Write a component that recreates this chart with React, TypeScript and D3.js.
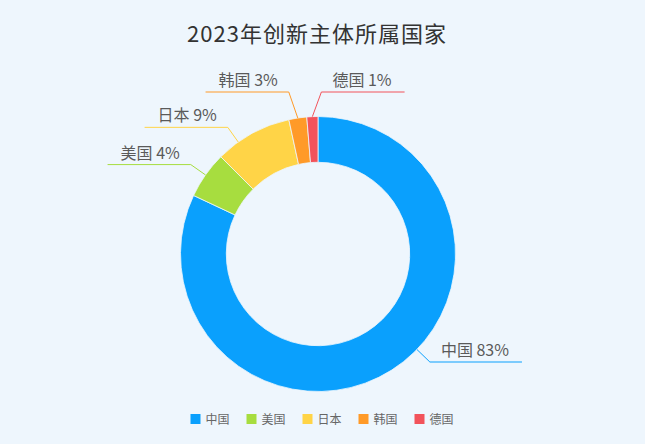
import React from "react";
import * as d3 from "d3";

const title = "2023年创新主体所属国家";
const categories = ["中国", "美国", "日本", "韩国", "德国"];
const values = [82.0, 5.5, 9.1, 2.1, 1.3];
const labelPercents = [83, 4, 9, 3, 1];
const colors = ["#0aa0fd", "#a7dd3f", "#ffd447", "#ff9a28", "#f2535b"];

const W = 645;
const H = 444;
const BG = "#eef6fd";
const FONT = "'Noto Sans CJK SC', 'Noto Sans', sans-serif";

function measure(text: string, size: number) {
  if (typeof document === "undefined") return text.length * size * 0.7;
  const c = document.createElement("canvas");
  const ctx = c.getContext("2d");
  if (!ctx) return text.length * size * 0.7;
  ctx.font = `${size}px ${FONT}`;
  return ctx.measureText(text).width;
}

export default function App() {
  React.useEffect(() => {
    document.body.style.margin = "0";
    document.body.style.background = BG;
  }, []);

  const cx = 318;
  const cy = 254;
  const R = 137.5;
  const r = 91.7;
  const r2 = R + 18;
  const gap = 37;
  const minY = cy - 162;
  const maxY = cy + 108;

  const pie = d3
    .pie<number>()
    .sort(null)
    .value((d) => d)
    .startAngle(0)
    .endAngle(Math.PI * 2);
  const arcs = pie(values);
  const arcGen = d3.arc<d3.PieArcDatum<number>>().innerRadius(r).outerRadius(R);

  type L = {
    i: number;
    mid: number;
    side: number;
    y: number;
  };
  const labels: L[] = arcs.map((a, i) => {
    const mid = (a.startAngle + a.endAngle) / 2;
    const side = Math.sin(mid) >= -0.06 ? 1 : -1;
    return { i, mid, side, y: cy - r2 * Math.cos(mid) };
  });

  [1, -1].forEach((s) => {
    const group = labels.filter((l) => l.side === s).sort((a, b) => a.y - b.y);
    for (let it = 0; it < 20; it++) {
      for (let k = 1; k < group.length; k++) {
        const d = group[k].y - group[k - 1].y;
        if (d < gap) {
          const sh = (gap - d) / 2;
          group[k - 1].y -= sh;
          group[k].y += sh;
        }
      }
    }
    group.forEach((l) => {
      l.y = Math.max(minY, Math.min(maxY, l.y));
    });
  });

  const layout = labels.map((l) => {
    let dy = l.y - cy;
    let sx: number, sy: number, tx: number, ty: number;
    if (Math.abs(dy) < r2 - 4) {
      const dx = l.side * Math.sqrt(r2 * r2 - dy * dy);
      tx = cx + dx;
      ty = l.y;
      sx = cx + (dx * R) / r2;
      sy = cy + (dy * R) / r2;
    } else {
      // labels hugging the top of the ring are lifted to the top line
      sx = cx + R * Math.sin(l.mid);
      sy = cy - R * Math.cos(l.mid);
      ty = dy < 0 ? minY : maxY;
      tx = sx + l.side * 9;
    }
    const text = `${categories[l.i]} ${labelPercents[l.i]}%`;
    const tw = measure(text, 16);
    const len = tw + 24;
    const ex = tx + l.side * len;
    const textX = tx + l.side * 11;
    return { ...l, sx, sy, tx, ty, ex, text, textX };
  });

  // legend
  const legendFont = 12;
  const sq = 10;
  const itemGap = 17;
  const itemWidths = categories.map((c) => sq + 5 + measure(c, legendFont));
  const totalW = d3.sum(itemWidths) + itemGap * (categories.length - 1);
  let lx = cx - totalW / 2 + 4;
  const legendItems = categories.map((c, i) => {
    const x = lx;
    lx += itemWidths[i] + itemGap;
    return { c, i, x };
  });
  const ly = 419;

  return (
    <svg
      width={W}
      height={H}
      viewBox={`0 0 ${W} ${H}`}
      style={{ display: "block", background: BG, fontFamily: FONT }}
    >
      <rect x={0} y={0} width={W} height={H} fill={BG} />
      <text
        x={317}
        y={42}
        textAnchor="middle"
        fontSize={22}
        fill="#333333"
        letterSpacing={1}
      >
        {title}
      </text>
      <g transform={`translate(${cx},${cy})`}>
        {arcs.map((a, i) => (
          <path
            key={i}
            d={arcGen(a) || ""}
            fill={colors[i]}
            stroke={BG}
            strokeWidth={0.8}
          />
        ))}
      </g>
      {layout.map((l) => (
        <g key={l.i}>
          <polyline
            points={`${l.sx},${l.sy} ${l.tx},${l.ty} ${l.ex},${l.ty}`}
            fill="none"
            stroke={colors[l.i]}
            strokeWidth={1}
          />
          <text
            x={l.textX}
            y={l.ty - 6}
            textAnchor={l.side > 0 ? "start" : "end"}
            fontSize={16}
            fill="#5a5a5a"
          >
            {l.text}
          </text>
        </g>
      ))}
      {legendItems.map((it) => (
        <g key={it.i}>
          <rect
            x={it.x}
            y={ly - sq / 2}
            width={sq}
            height={sq}
            fill={colors[it.i]}
          />
          <text
            x={it.x + sq + 5}
            y={ly + 4.5}
            fontSize={legendFont}
            fill="#666666"
          >
            {it.c}
          </text>
        </g>
      ))}
    </svg>
  );
}
